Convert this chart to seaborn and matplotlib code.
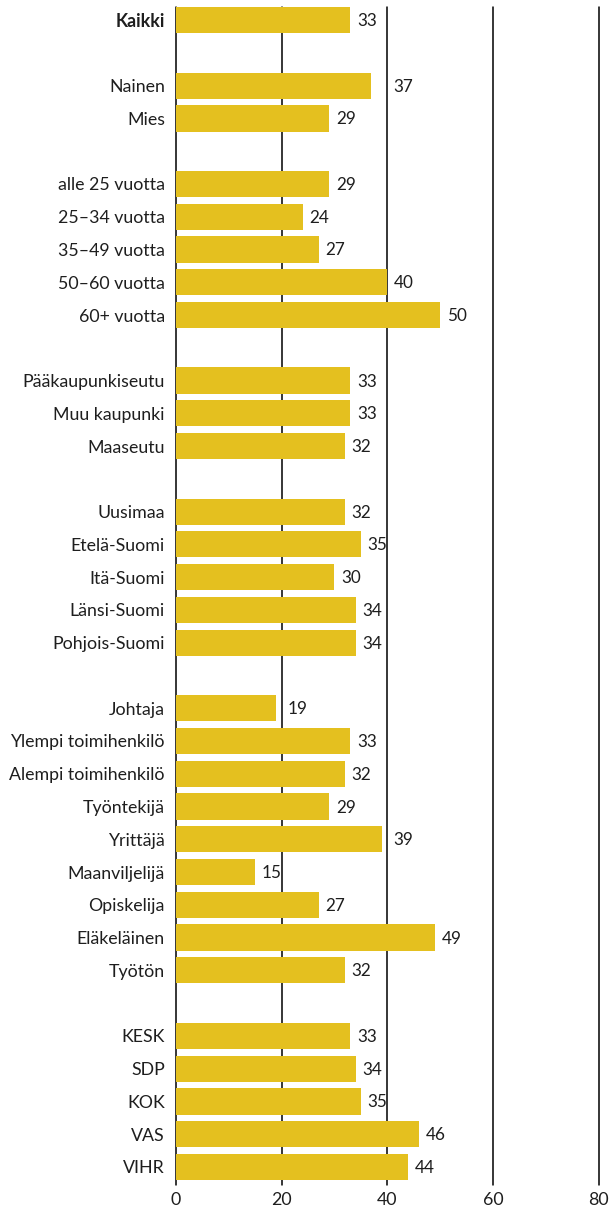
import numpy as np
import pandas as pd
import matplotlib.pyplot as plt
import seaborn as sns

# Data (None marks a spacer row between groups)
labels = ['Kaikki', None,
          'Nainen', 'Mies', None,
          'alle 25 vuotta', '25–34 vuotta', '35–49 vuotta', '50–60 vuotta', '60+ vuotta', None,
          'Pääkaupunkiseutu', 'Muu kaupunki', 'Maaseutu', None,
          'Uusimaa', 'Etelä-Suomi', 'Itä-Suomi', 'Länsi-Suomi', 'Pohjois-Suomi', None,
          'Johtaja', 'Ylempi toimihenkilö', 'Alempi toimihenkilö', 'Työntekijä', 'Yrittäjä',
          'Maanviljelijä', 'Opiskelija', 'Eläkeläinen', 'Työtön', None,
          'KESK', 'SDP', 'KOK', 'VAS', 'VIHR']
values = [33, None,
          37, 29, None,
          29, 24, 27, 40, 50, None,
          33, 33, 32, None,
          32, 35, 30, 34, 34, None,
          19, 33, 32, 29, 39, 15, 27, 49, 32, None,
          33, 34, 35, 46, 44]
x_ticks = [0, 20, 40, 60, 80]

# Unique whitespace names keep spacer rows as empty slots on the axis
order = []
for i, lab in enumerate(labels):
    order.append(lab if lab is not None else ' ' * (i + 1))
df = pd.DataFrame({'label': order, 'value': values}).dropna()

sns.set_style('white')
plt.rcParams['font.family'] = ['Lato', 'DejaVu Sans']
fs = 12.8
txt = '#1e1e1e'

fig = plt.figure(figsize=(6.11, 12.09), dpi=100)
ax = fig.add_axes([176 / 611, 24 / 1209, 422.5 / 611, 1178 / 1209])

ax.set_axisbelow(True)
for t in x_ticks:
    ax.axvline(t, color='black', lw=1.1, zorder=0, clip_on=False)

sns.barplot(data=df, x='value', y='label', order=order, orient='h',
            color='#E4C01F', saturation=1, width=0.8, linewidth=0,
            ax=ax, zorder=2)

# Value labels, nudged past a gridline when they would sit on it
for i, v in enumerate(values):
    if v is None:
        continue
    xpos = v + 1.25
    for g in x_ticks[1:]:
        if v < g < v + 4.6:
            xpos = g + 1.1
    ax.text(xpos, i + 0.03, f'{v}', va='center', ha='left', fontsize=12.3, color=txt)

ax.set_xlim(0, 80)
ax.set_ylim(len(order) - 0.45, -0.4)
ax.set_xticks(x_ticks)
ax.set_xlabel('')
ax.set_ylabel('')
for s in ax.spines.values():
    s.set_visible(False)
ax.tick_params(axis='both', length=0, labelsize=fs, colors=txt)
ax.tick_params(axis='y', pad=8)
ax.tick_params(axis='x', pad=5)
for tl in ax.get_yticklabels():
    if tl.get_text() == 'Kaikki':
        tl.set_fontweight('bold')

plt.savefig('out.png', dpi=100)
